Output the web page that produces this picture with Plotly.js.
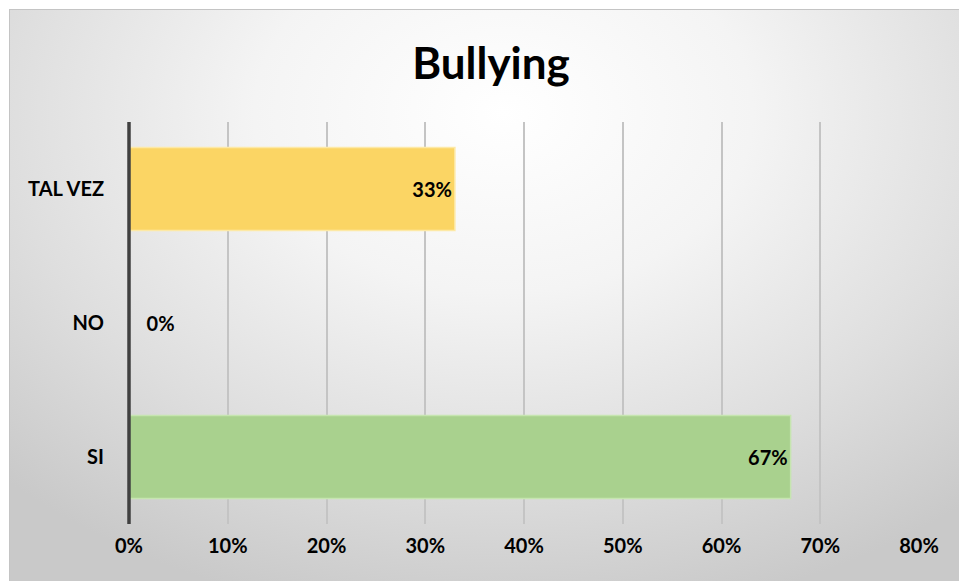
<!DOCTYPE html>
<html>
<head>
<meta charset="utf-8">
<script src="https://cdn.plot.ly/plotly-3.0.1.min.js"></script>
<style>
  html, body { margin: 0; padding: 0; background: #ffffff; }
  #wrap { position: relative; width: 959px; height: 581px; overflow: hidden; }
  #bg { position: absolute; left: 9px; top: 9px; width: 950px; height: 572px;
        background: radial-gradient(ellipse 75% 90% at 52% 18%, #ffffff 0%, #f4f4f4 35%, #dedede 70%, #c9c9c9 100%);
        border-top: 1px solid #c4c4c4; border-left: 1px solid #c4c4c4; box-sizing: border-box; }
  #chart { position: absolute; left: 0; top: 0; width: 959px; height: 581px; }
</style>
</head>
<body>
<div id="wrap">
  <div id="bg"></div>
  <div id="chart"></div>
</div>
<script>
const categories = ["SI", "NO", "TAL VEZ"];
const values = [0.67, 0.0, 0.33];
const valueLabels = ["67%", "\u00a0\u00a0\u00a00%", "33%"];
const barColors = ["#a9d18e", "#a9d18e", "#fbd564"];
const barEdges = ["#c6e5b0", "#c6e5b0", "#fde9a6"];
const labelPositions = ["inside", "outside", "inside"];
const tickValues = [0, 0.1, 0.2, 0.3, 0.4, 0.5, 0.6, 0.7, 0.8];
const tickLabels = ["0%", "10%", "20%", "30%", "40%", "50%", "60%", "70%", "80%"];

const fontFam = "Lato, 'Open Sans', sans-serif";

const trace = {
  type: "bar",
  orientation: "h",
  y: categories,
  x: values,
  text: valueLabels,
  textposition: labelPositions,
  insidetextanchor: "end",
  textfont: { family: fontFam, size: 20, color: "#000000", weight: "bold" },
  outsidetextfont: { family: fontFam, size: 20, color: "#000000", weight: "bold" },
  insidetextfont: { family: fontFam, size: 20, color: "#000000", weight: "bold" },
  constraintext: "none",
  cliponaxis: false,
  marker: { color: barColors, line: { color: barEdges, width: 1.5 } },
  width: 0.62,
  hoverinfo: "none"
};

const layout = {
  width: 959,
  height: 581,
  paper_bgcolor: "rgba(0,0,0,0)",
  plot_bgcolor: "rgba(0,0,0,0)",
  margin: { l: 129, r: 40, t: 122, b: 57, pad: 0 },
  showlegend: false,
  title: {
    text: "<b>Bullying</b>",
    font: { family: fontFam, size: 44, color: "#000000" },
    x: 491 / 959, xanchor: "center", xref: "container",
    y: 1 - 64 / 581, yanchor: "middle", yref: "container"
  },
  xaxis: {
    range: [0, 0.8],
    tickvals: tickValues,
    ticktext: tickLabels,
    showgrid: true,
    gridcolor: "#c4c4c4",
    gridwidth: 2,
    zeroline: false,
    showline: false,
    ticks: "outside",
    ticklen: 4,
    tickcolor: "rgba(0,0,0,0)",
    tickfont: { family: fontFam, size: 20, color: "#000000", weight: "bold" },
    fixedrange: true
  },
  yaxis: {
    type: "category",
    categoryorder: "array",
    categoryarray: categories,
    showgrid: false,
    zeroline: false,
    showline: false,
    ticks: "outside",
    ticklen: 20,
    tickcolor: "rgba(0,0,0,0)",
    tickfont: { family: fontFam, size: 20, color: "#000000", weight: "bold" },
    fixedrange: true
  },
  shapes: [
    { type: "line", xref: "paper", yref: "paper", x0: 0, x1: 0, y0: 0, y1: 1,
      layer: "above", line: { color: "#404040", width: 3.5 } }
  ]
};

Plotly.newPlot("chart", [trace], layout, { displayModeBar: false, staticPlot: true });
</script>
</body>
</html>
